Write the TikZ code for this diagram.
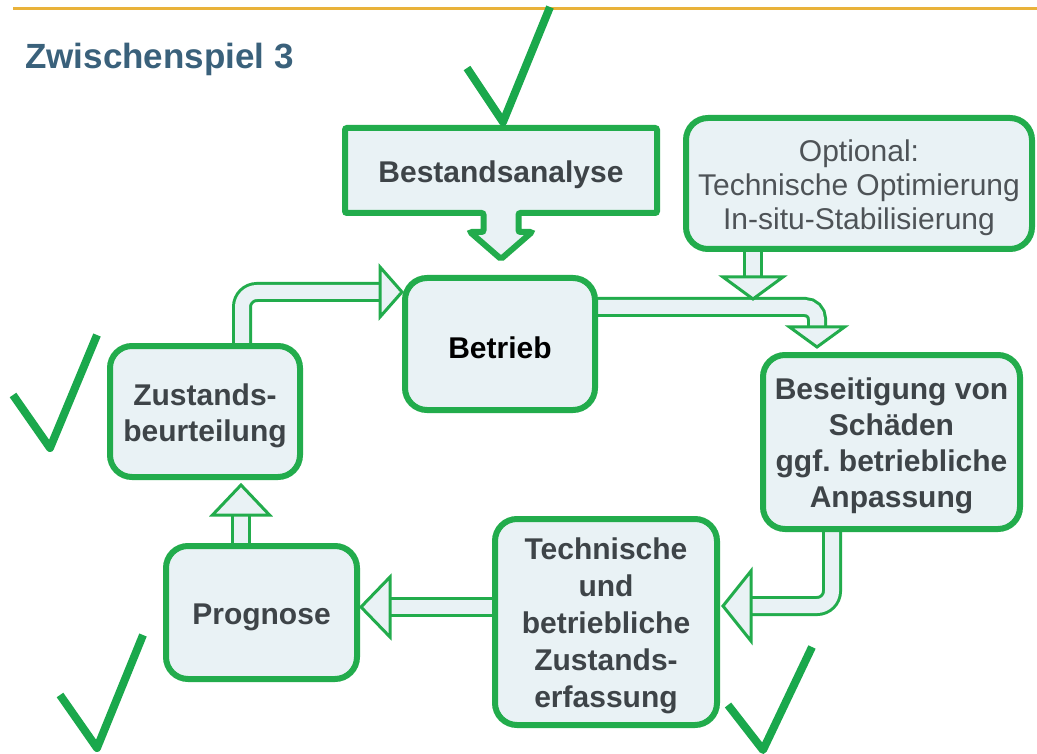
\documentclass[tikz,border=0pt]{standalone}
\usepackage{fontspec}
\setmainfont{Liberation Sans}
\usetikzlibrary{calc,backgrounds}
\definecolor{gbord}{RGB}{34,172,76}
\definecolor{gcheck}{RGB}{26,168,76}
\definecolor{boxfill}{RGB}{233,242,245}
\definecolor{txt}{RGB}{62,68,72}
\definecolor{optxt}{RGB}{78,83,87}
\definecolor{titleblue}{RGB}{58,97,123}
\definecolor{topline}{RGB}{233,178,58}
\newcommand\tstrut{\rule{0pt}{30pt}}
\frenchspacing
\begin{document}
\begin{tikzpicture}[x=1pt,y=-1pt,
 box/.style={draw=gbord,line width=6pt,fill=boxfill,rounded corners=22pt,inner sep=0pt,align=center,text=txt,font=\bfseries\fontsize{30}{36}\selectfont},
 band/.style={draw=gbord,line width=3pt,double=boxfill,double distance=14pt},
 ahead/.style={draw=gbord,line width=3pt,fill=boxfill,line join=miter},
 check/.style={draw=gcheck,line width=8pt,line join=round}]
\useasboundingbox (0,0) rectangle (1037,754);
\draw[topline,line width=3pt] (13,9) -- (1037,9);
\node[anchor=base west,inner sep=0pt,text=titleblue,font=\bfseries\fontsize{35}{40}\selectfont] (title) at (25,69) {Zwischenspiel 3};

% boxes
\node[box,draw=none,fill=none,rounded corners=2pt,minimum width=306pt,minimum height=79pt] (best) at (501,170.5) {\tstrut Bestandsanalyse};
\node[box,minimum width=346pt,minimum height=131pt,text=optxt,font=\fontsize{30}{34}\selectfont] (opt) at (859,183.5) {\tstrut Optional:\\Technische Optimierung\\In-situ-Stabilisierung};
\node[box,text=black,minimum width=190pt,minimum height=132pt] (betrieb) at (500,344) {\tstrut Betrieb};
\node[box,minimum width=257pt,minimum height=174pt] (beseit) at (891.5,442) {\tstrut Beseitigung von\\Schäden\\ggf.\ betriebliche\\Anpassung};
\node[box,font=\bfseries\fontsize{30}{37}\selectfont,minimum width=222pt,minimum height=206pt] (techn) at (606,622) {\tstrut Technische\\und\\betriebliche\\Zustands-\\erfassung};
\node[box,minimum width=191pt,minimum height=133pt] (progn) at (261.5,612.5) {\tstrut Prognose};
\node[box,minimum width=190pt,minimum height=131pt] (zust) at (205,411.5) {\tstrut Zustands-\\beurteilung};

\begin{scope}[on background layer]
\fill[white] (0,0) rectangle (1037,754);
% callout outline of Bestandsanalyse
\draw[draw=gbord,line width=6pt,fill=boxfill,rounded corners=2pt,line join=miter]
 (best.north west) -- (best.north east) -- (best.south east)
 -- ($(best.south)+(17.5,0)$) -- ($(best.south)+(17.5,19)$) -- ($(best.south)+(31,19)$)
 -- ($(best.south)+(0,46)$) -- ($(best.south)+(-31,19)$) -- ($(best.south)+(-17.5,19)$)
 -- ($(best.south)+(-17.5,0)$) -- (best.south west) -- cycle;

% Zustandsbeurteilung -> Betrieb
\coordinate (t1) at ($(betrieb.west)+(0,-52)$);
\draw[band,rounded corners=15pt] ($(zust.north)+(37,8)$) |- ($(t1)+(-20,0)$);
\draw[ahead] (t1) -- ++(-22,-25) -- ++(0,50) -- cycle;

% Betrieb -> Beseitigung
\coordinate (t2) at ($(beseit.north)+(-74.5,-5)$);
\draw[band,rounded corners=12pt] ($(betrieb.east)+(-8,-37)$) -| ($(t2)+(0,-18)$);
\draw[ahead] (t2) -- ++(-27.5,-20) -- ++(55,0) -- cycle;

% Optional -> band
\coordinate (t3) at ($(opt.south)+(-106,47)$);
\draw[band] ($(opt.south)+(-106,-6)$) -- ($(t3)+(0,-20)$);
\draw[ahead] (t3) -- ++(-30,-22) -- ++(60,0) -- cycle;

% Beseitigung -> Technische
\coordinate (t4) at ($(techn.east)+(3,-16)$);
\draw[band,rounded corners=15pt] ($(beseit.south)+(-59.5,-8)$) |- ($(t4)+(26,0)$);
\draw[ahead] (t4) -- ++(28,-35) -- ++(0,70) -- cycle;

% Technische -> Prognose
\coordinate (t5) at ($(progn.east)+(1,-5.5)$);
\draw[band] ($(techn.west)+(8,-15)$) -- ($(t5)+(27,0)$);
\draw[ahead] (t5) -- ++(29,-30) -- ++(0,60) -- cycle;

% Prognose -> Zustandsbeurteilung
\coordinate (t6) at ($(zust.south)+(36,5)$);
\draw[band] ($(progn.north)+(-20.5,8)$) -- ($(t6)+(0,28)$);
\draw[ahead] (t6) -- ++(-28.5,30) -- ++(57,0) -- cycle;
\end{scope}

% check marks
\draw[check] (467,68) -- (503,122) -- (550,7);
\draw[check] (13,395) -- (50,448) -- (97,335);
\draw[check] (60,695) -- (97,748) -- (143,635);
\draw[check] (728,705) -- (763,750) -- (812,647);
\end{tikzpicture}
\end{document}
